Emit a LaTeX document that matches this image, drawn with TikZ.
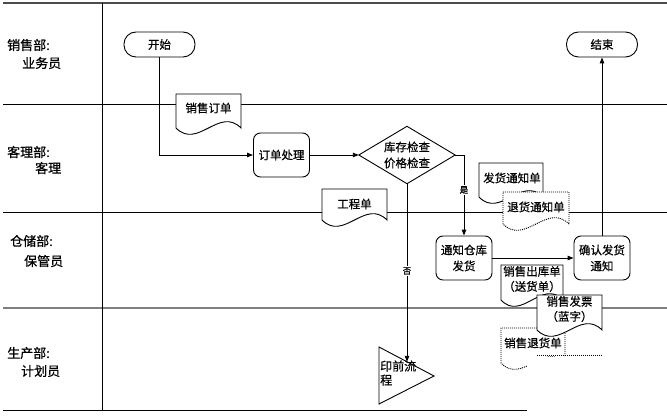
\documentclass[tikz,border=0pt]{standalone}
\usepackage{fontspec}
\setmainfont{Noto Sans CJK SC}[FakeBold=0.7]
\usetikzlibrary{arrows.meta,calc}
\newcommand\docshape[5]{%
  \pgfmathsetmacro\dw{(#4-#2)/3}%
  \path[#1] (#2,#5) -- (#2,#3) -- (#4,#3) -- (#4,#5) .. controls (#4-\dw,#5-22) and (#2+\dw,#5+22) .. (#2,#5) -- cycle;}
\begin{document}
\begin{tikzpicture}[x=1pt,y=-1pt,
  lane/.style={line width=1pt, draw=black},
  lanegray/.style={line width=1.2pt, draw=black!50},
  term/.style={draw, line width=0.9pt, rounded corners=12pt, minimum width=71pt, minimum height=25pt, inner sep=0pt, font=\fontsize{11.5}{14}\selectfont},
  proc/.style={draw, line width=0.9pt, rounded corners=7pt, minimum width=56pt, minimum height=44pt, inner sep=0pt, align=center, font=\fontsize{11.5}{16}\selectfont},
  txt/.style={inner sep=0pt, align=center, font=\fontsize{11.5}{15}\selectfont},
  lbl/.style={inner sep=0pt, anchor=west, font=\fontsize{13}{15}\selectfont},
  small/.style={inner sep=1pt, fill=white, font=\fontsize{8.5}{9}\selectfont},
  arr/.style={line width=0.9pt, -{Triangle[length=6pt,width=4.5pt]}},
  docsolid/.style={draw, line width=0.9pt, fill=white},
  docdot/.style={draw, line width=0.9pt, fill=white, dash pattern=on 1pt off 1pt},
]
\useasboundingbox (0,0) rectangle (667,417);

% swimlanes
\draw[lanegray, draw=black!70] (3,3) -- (667,3);
\draw[lane] (3,105) -- (667,105);
\draw[lane] (3,212.5) -- (667,212.5);
\draw[lanegray] (3,308) -- (667,308);
\draw[lane] (3,410) -- (667,410);
\draw[lane] (102,3) -- (102,410);

% lane labels
\node[lbl] (l1a) at (7,45) {销售部:};
\node[lbl] (l1b) at (22,63) {业务员};
\node[lbl] (l2a) at (7,152) {客理部:};
\node[lbl] (l2b) at (35,168) {客理};
\node[lbl] (l3a) at (10,241) {仓储部:};
\node[lbl] (l3b) at (24,261) {保管员};
\node[lbl] (l4a) at (7,353) {生产部:};
\node[lbl] (l4b) at (21,371) {计划员};

% documents
\docshape{docsolid}{176}{94}{241}{128}
\node[txt] (d1) at (208.5,108) {销售订单};
\docshape{docsolid}{322}{189}{387}{220}
\node[txt] (d2) at (354.5,204) {工程单};
\docshape{docsolid}{479}{163}{543}{197}
\node[txt] (d3) at (512,178) {发货通知单};
\docshape{docdot}{503}{192}{569}{224}
\node[txt] (d4) at (536,207) {退货通知单};
\docshape{docsolid}{501}{265}{563}{300}
\node[txt] (d5) at (532,279) {销售出库单\\（送货单）};
\docshape{docdot}{501}{328}{565}{363}
\node[txt] (d7) at (533,343) {销售退货单};
\docshape{docsolid}{537}{295}{602}{330}
\node[txt] (d6) at (569.5,309) {销售发票\\（蓝字）};
\coordinate (h1) at (537,355);
\coordinate (h2) at (602,355);
\draw[line width=0.9pt, dash pattern=on 1pt off 1pt] (h1) -- (h2);
\fill[white] (527,357) rectangle (668,418);

% flow nodes
\node[term] (start) at (159.5,44.5) {开始};
\node[term] (end) at (602,44.5) {结束};
\node[proc] (proc1) at (281.5,155) {订单处理};
\node[txt, minimum width=96pt, minimum height=57pt, font=\fontsize{11.5}{16}\selectfont] (chk) at (407,155) {库存检查\\价格检查};
\draw[line width=0.9pt] (chk.north) -- (chk.east) -- (chk.south) -- (chk.west) -- cycle;
\node[proc] (notify) at (464,258) {通知仓库\\发货};
\node[proc] (confirm) at (602,258) {确认发货\\通知};
\draw[line width=0.9pt] (379,347) -- (434,376) -- (379,404) -- cycle;
\coordinate (triin) at (407,361.8);
\node[inner sep=0pt, anchor=west, align=left, font=\fontsize{12}{14}\selectfont] (pre) at (380,373) {印前流\\程};

% connectors
\draw[arr] (start.south) |- (proc1.west);
\draw[arr] (proc1.east) -- (chk.west);
\draw[arr] (chk.east) -| (notify.north);
\node[small] (yes) at (464,190) {是};
\draw[arr] (chk.south) -- (triin);
\node[small] (no) at (407,271) {否};
\draw[arr] (notify.east) -- (confirm.west);
\draw[arr] (confirm.north) -- (end.south);
\end{tikzpicture}
\end{document}
